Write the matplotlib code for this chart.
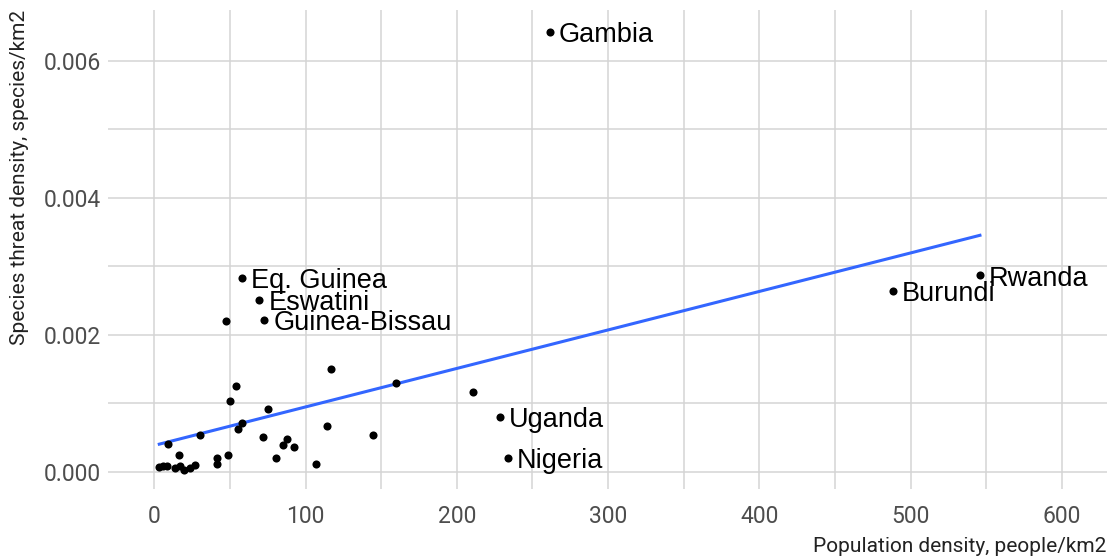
import numpy as np
import matplotlib.pyplot as plt

# population density (people/km2) and threatened species density (species/km2)
pop_density = [3.3, 5.5, 8.2, 8.9, 13.7, 16.3, 17.0, 19.8, 23.6, 26.9, 30.2,
               41.2, 41.6, 47.5, 48.9, 50.0, 54.0, 55.5, 57.8, 71.7, 75.4,
               80.2, 85.3, 87.9, 92.5, 106.9, 114.4, 116.6, 144.4, 159.6, 210.5,
               261.6, 57.8, 69.5, 72.8, 545.8, 488.1, 228.3, 233.7]
threat_density = [0.00007, 0.00008, 0.00008, 0.00040, 0.00005, 0.00025, 0.00008,
                  0.00002, 0.00006, 0.00010, 0.00054, 0.00020, 0.00011, 0.00220,
                  0.00024, 0.00103, 0.00125, 0.00063, 0.00071, 0.00050, 0.00092,
                  0.00020, 0.00039, 0.00048, 0.00036, 0.00011, 0.00067, 0.00150,
                  0.00053, 0.00130, 0.00117,
                  0.00642, 0.00283, 0.00251, 0.00222, 0.00287, 0.00264, 0.00080,
                  0.00020]
country = [""] * 31 + ["Gambia", "Eq. Guinea", "Eswatini", "Guinea-Bissau",
                       "Rwanda", "Burundi", "Uganda", "Nigeria"]

x = np.array(pop_density)
y = np.array(threat_density)

fig = plt.figure(figsize=(11.08, 5.6), dpi=100)
ax = fig.add_axes([108.3 / 1108, 1 - 489.3 / 560, (1106.7 - 108.3) / 1108, (489.3 - 10) / 560])

ax.set_xlim(-30.4, 629.6)
ax.set_ylim(-0.000257, 0.00674)

ax.set_xticks(np.arange(0, 601, 100))
ax.set_xticks(np.arange(50, 601, 100), minor=True)
ax.set_yticks([0, 0.002, 0.004, 0.006])
ax.set_yticks([0.001, 0.003, 0.005], minor=True)
ax.set_yticklabels(["0.000", "0.002", "0.004", "0.006"])
ax.grid(True, which="both", color="#d4d4d4", lw=1.1)
ax.set_axisbelow(True)
for s in ax.spines.values():
    s.set_visible(False)

tick_font = ["Roboto", "DejaVu Sans"]
ax.tick_params(which="both", length=0)
ax.tick_params(axis="y", pad=5, labelsize=16.5, labelcolor="#4d4d4d")
ax.tick_params(axis="x", pad=11, labelsize=16.5, labelcolor="#4d4d4d")
for lab in ax.get_xticklabels() + ax.get_yticklabels():
    lab.set_family(tick_font)

# linear fit across the observed range
slope, intercept = np.polyfit(x, y, 1)
fit_x = np.array([x.min(), x.max()])
ax.plot(fit_x, intercept + slope * fit_x, color="#3366FF", lw=2.2, zorder=2)

ax.scatter(x, y, s=34, color="black", zorder=3, linewidths=0)

for xi, yi, name in zip(x, y, country):
    if name:
        ax.annotate(name, (xi, yi), xytext=(6.5, -2.5), textcoords="offset points",
                    ha="left", va="center", fontsize=19.5,
                    family=["Liberation Sans", "DejaVu Sans"], color="black")

fig.text(20 / 1108, 1 - 10 / 560, "Species threat density, species/km2",
         rotation=90, ha="center", va="top", fontsize=15, color="#222222",
         family=tick_font)
fig.text(1106.7 / 1108, 1 - 547 / 560, "Population density, people/km2",
         ha="right", va="center", fontsize=15, color="#222222", family=tick_font)

fig.savefig("out.png", dpi=100, facecolor="white")
